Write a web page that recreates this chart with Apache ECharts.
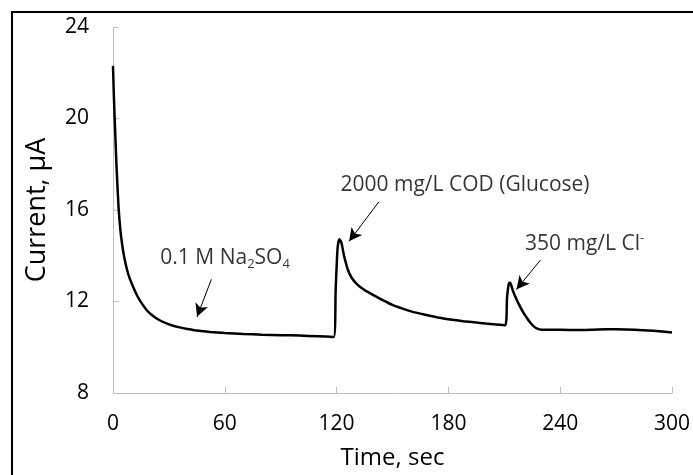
<!DOCTYPE html>
<html>
<head>
<meta charset="utf-8">
<script src="https://cdn.jsdelivr.net/npm/echarts@6/dist/echarts.min.js"></script>
<style>html,body{margin:0;padding:0;background:#fff;}#c{width:693px;height:475px;}</style>
</head>
<body>
<div id="c"></div>
<script>
// Time (sec)
var timeSec = [0,0.5,1,1.5,2,3,4,5,6,7.5,9,11,13,15,18,21,25,30,35,40,46,52,60,70,80,90,100,110,118.5,
  119.5,120.5,121.5,122.5,124,126,128,131,135,140,145,150,155,160,165,170,176,182,188,194,200,205,210.5,
  211.5,212.5,213.2,214.5,216,218,220,222,224,226,228,230,240,250,260,270,280,290,300];
// Current (µA)
var currentUA = [22.3,20.9,19.8,18.7,17.7,16.1,15.1,14.45,13.95,13.4,13.0,12.6,12.25,11.97,11.63,11.4,11.18,11.0,10.88,10.8,10.72,10.67,10.62,10.58,10.55,10.53,10.51,10.48,10.45,
  12.5,14.3,14.72,14.6,14.0,13.4,13.05,12.75,12.5,12.27,12.05,11.85,11.7,11.57,11.47,11.38,11.28,11.2,11.14,11.09,11.04,11.0,10.96,
  12.2,12.8,12.82,12.5,12.2,11.85,11.55,11.3,11.07,10.9,10.8,10.77,10.76,10.75,10.78,10.79,10.77,10.72,10.65];
var xTicks = [0,60,120,180,240,300];
var yTicks = [8,12,16,20,24];
// annotation labels: [t, value] of label left-center
var annoLabelPos = [[25.4,13.88],[122.1,17.11],[221.1,14.5]];
var annoText = ['0.1 M Na{sub|2}SO{sub|4}','2000 mg/L COD (Glucose)','350 mg/L Cl{sup|-}'];
// arrows: start [t,v] -> tip [t,v]
var arrowStart = [[52.8,12.97],[142.6,16.35],[229.4,13.81]];
var arrowTip = [[45.1,11.33],[126.7,14.63],[216.5,12.53]];

var FONT = 'Open Sans';
var chart = echarts.init(document.getElementById('c'));
var lineData = timeSec.map(function(t,i){return [t,currentUA[i]];});
var annoData = annoLabelPos.map(function(p,i){return {value:p, label:{formatter:annoText[i]}};});
var arrowData = arrowStart.map(function(s,i){return [{coord:s},{coord:arrowTip[i]}];});
var axisGray = '#bfbfbf';
chart.setOption({
  animation:false,
  backgroundColor:'#fff',
  grid:{left:113,right:21,top:27,bottom:80,containLabel:false},
  xAxis:{type:'value',min:0,max:300,interval:60,
    name:'Time, sec',nameLocation:'middle',nameGap:53,
    nameTextStyle:{fontFamily:FONT,fontSize:24,color:'#000'},
    axisLine:{show:true,lineStyle:{color:axisGray,width:1}},
    axisTick:{show:true,inside:true,length:6,lineStyle:{color:axisGray}},
    axisLabel:{fontFamily:FONT,fontSize:21,color:'#000',margin:21},
    splitLine:{show:false}},
  yAxis:{type:'value',min:8,max:24,interval:4,
    name:'Current, μA',nameLocation:'middle',nameGap:62,nameRotate:90,
    nameTextStyle:{fontFamily:FONT,fontSize:27,color:'#000'},
    axisLine:{show:true,lineStyle:{color:axisGray,width:1}},
    axisTick:{show:true,inside:true,length:6,lineStyle:{color:axisGray}},
    axisLabel:{fontFamily:FONT,fontSize:21,color:'#000',margin:24},
    splitLine:{show:false}},
  graphic:[{type:'rect',shape:{x:12,y:12,width:720,height:520},style:{fill:'none',stroke:'#000',lineWidth:2},z:100}],
  series:[
    {type:'line',data:lineData,showSymbol:false,smooth:0.2,
     lineStyle:{color:'#000',width:2.5},
     markLine:{silent:true,symbol:['none','arrow'],symbolSize:[10,13],
       lineStyle:{color:'#000',width:1,type:'solid'},label:{show:false},
       data:arrowData}},
    {type:'scatter',data:annoData,symbolSize:0,silent:true,
     label:{show:true,position:'right',distance:0,fontFamily:FONT,fontSize:21,color:'#000',
       rich:{
         sub:{fontFamily:FONT,fontSize:13,color:'#000',padding:[12,0,0,0]},
         sup:{fontFamily:FONT,fontSize:13,color:'#000',padding:[0,0,12,0]}
       }}}
  ]
});
</script>
</body>
</html>
